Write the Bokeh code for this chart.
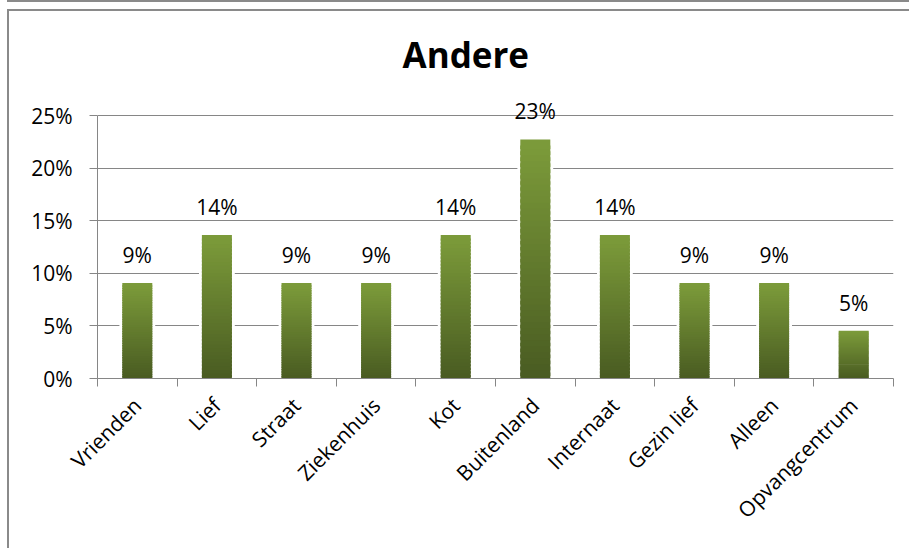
import math
from bokeh.plotting import figure
from bokeh.models import (Range1d, FixedTicker, NumeralTickFormatter, ColumnDataSource,
                          LabelSet, Title)
from bokeh.core.properties import value
from bokeh.embed import file_html
from bokeh.resources import INLINE

# ---- data ----
categories = ["Vrienden", "Lief", "Straat", "Ziekenhuis", "Kot", "Buitenland",
              "Internaat", "Gezin lief", "Alleen", "Opvangcentrum"]
shares = [0.0909, 0.1364, 0.0909, 0.0909, 0.1364, 0.2273, 0.1364, 0.0909, 0.0909, 0.0455]
y_ticks = [0.0, 0.05, 0.10, 0.15, 0.20, 0.25]
title_text = "Andere"

FONT = "Open Sans"
GRID = "#868686"
TOP = (124, 155, 58)
BOTTOM = (72, 90, 33)

n = len(categories)
centers = [i + 0.5 for i in range(n)]
labels = [f"{round(v * 100)}%" for v in shares]

p = figure(width=902, height=539, output_backend="svg", toolbar_location=None,
           x_range=Range1d(0, n), y_range=Range1d(0, 0.27),
           min_border_left=88, min_border_right=18, min_border_top=83,
           min_border_bottom=172)
p.styles = {"border-left": "2px solid #8a8a8a", "border-top": "2px solid #8a8a8a",
            "margin-left": "7px", "margin-top": "9px",
            "box-shadow": "0 -7px 0 0 white, 0 -9px 0 0 #8a8a8a"}
p.outline_line_color = None
p.background_fill_color = "white"
p.border_fill_color = "white"

# gridlines
p.xgrid.grid_line_color = None
p.ygrid.grid_line_color = GRID
p.ygrid.grid_line_width = 1
p.ygrid.ticker = FixedTicker(ticks=y_ticks)

# y axis
p.yaxis.ticker = FixedTicker(ticks=y_ticks)
p.yaxis.bounds = (y_ticks[0], y_ticks[-1])
p.yaxis.formatter = NumeralTickFormatter(format="0%")
p.yaxis.axis_line_color = GRID
p.yaxis.major_tick_line_color = GRID
p.yaxis.major_tick_out = 8
p.yaxis.major_tick_in = 0
p.yaxis.minor_tick_line_color = None
p.yaxis.major_label_text_font = FONT
p.yaxis.major_label_text_font_size = "21px"
p.yaxis.major_label_text_color = "black"
p.yaxis.major_label_standoff = 17

# x axis: labels at centres, tick marks at category boundaries
p.xaxis.ticker = FixedTicker(ticks=centers, minor_ticks=list(range(n + 1)))
p.xaxis.major_label_overrides = {c: cat for c, cat in zip(centers, categories)}
p.xaxis.major_label_orientation = math.pi / 4
p.xaxis.axis_line_color = GRID
p.xaxis.major_tick_line_color = None
p.xaxis.minor_tick_line_color = GRID
p.xaxis.minor_tick_out = 8
p.xaxis.minor_tick_in = 0
p.xaxis.major_label_text_font = FONT
p.xaxis.major_label_text_font_size = "21px"
p.xaxis.major_label_text_color = "black"
p.xaxis.major_label_standoff = 15

# white halo behind bars
p.vbar(x=centers, top=shares, bottom=0, width=0.45, fill_color="white",
       line_color=None)

# gradient bars: overlapping stacked slices of each bar
N = 40
xs, bots, tops, cols = [], [], [], []
for c, v in zip(centers, shares):
    for k in range(N):
        t = (k + 0.5) / N
        col = tuple(int(round(BOTTOM[j] + (TOP[j] - BOTTOM[j]) * t)) for j in range(3))
        xs.append(c)
        bots.append(v * max(k - 0.6, 0) / N)
        tops.append(v * (k + 1) / N)
        cols.append("#%02x%02x%02x" % col)
p.vbar(x=xs, bottom=bots, top=tops, width=0.377, fill_color=cols, line_color=None)

# value labels
src = ColumnDataSource(dict(x=centers, y=shares, t=labels))
p.add_layout(LabelSet(x="x", y="y", text="t", source=src, y_offset=20,
                      text_align="center", text_baseline="alphabetic",
                      text_font=value(FONT), text_font_size="21px",
                      text_color="black"))

# title
p.add_layout(Title(text=title_text, align="left", offset=305, standoff=33,
                   text_font=FONT, text_font_size="35px", text_font_style="bold",
                   text_color="black"), "above")

open("out.html", "w").write(file_html(p, INLINE))
